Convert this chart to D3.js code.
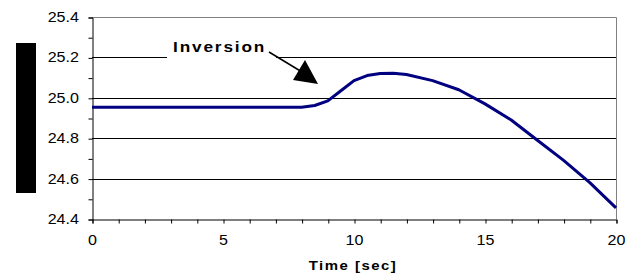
<!DOCTYPE html>
<html>
<head>
<meta charset="utf-8">
<title>Inversion</title>
<style>
    body { margin: 0; background: white; }
    text { font-family: "Liberation Sans", Arial, sans-serif; }
</style>
</head>
<body>
<div id="chart"></div>
<script src="https://cdn.jsdelivr.net/npm/d3@7/dist/d3.min.js"></script>
<script>
    // time in seconds and the measured value
    let times  = [0, 1, 2, 3, 4, 5, 6, 7, 8, 8.5, 9, 9.5, 10, 10.5, 11, 11.5, 12, 13, 14, 15, 16, 17, 18, 19, 20]
    let values = [24.953, 24.953, 24.953, 24.953, 24.953, 24.953, 24.953, 24.953, 24.953, 24.962, 24.985, 25.035, 25.085, 25.11, 25.12, 25.122, 25.115, 25.085, 25.04, 24.97, 24.89, 24.79, 24.69, 24.58, 24.455]
    let xTicks = [0, 5, 10, 15, 20]
    let yTicks = [24.4, 24.6, 24.8, 25.0, 25.2, 25.4]
    let gridValues = [24.6, 24.8, 25.0, 25.2]

    let width = 632, height = 280
    let plotLeft = 92, plotRight = 616, plotTop = 17, plotBottom = 219
    let stretch = 1.15   // the picture's text is a little wide

    let svg = d3.select("#chart").append("svg")
        .attr("width", width)
        .attr("height", height)

    let x = d3.scaleLinear().domain([0, 20]).range([plotLeft, plotRight])
    let y = d3.scaleLinear().domain([24.4, 25.4]).range([plotBottom, plotTop])

    function wideText(px, py, size) {
        return svg.append("text")
            .attr("transform", "translate(" + px + "," + py + ") scale(" + stretch + ",1)")
            .attr("font-size", size)
    }

    // grid lines
    svg.selectAll(".grid")
        .data(gridValues)
        .enter()
        .append("line")
        .attr("x1", plotLeft)
        .attr("x2", plotRight)
        .attr("y1", d => Math.round(y(d)) + 0.5)
        .attr("y2", d => Math.round(y(d)) + 0.5)
        .attr("stroke", "black")
        .attr("stroke-width", 1)

    // top and right border
    svg.append("path")
        .attr("d", "M" + plotLeft + "," + (plotTop + 0.5) + "H" + (plotRight + 0.5) + "V" + plotBottom)
        .attr("fill", "none")
        .attr("stroke", "#808080")
        .attr("stroke-width", 1)

    // y axis
    let yAxis = svg.append("g")
        .attr("transform", "translate(" + (plotLeft + 0.5) + ",0.5)")
        .call(d3.axisLeft(y).tickValues(d3.range(24.4, 25.45, 0.1)).tickSize(4).tickFormat(""))
    yAxis.select(".domain").attr("stroke", "black")
    yAxis.selectAll("line").attr("stroke", "black")

    yTicks.forEach(function(d){
        wideText(plotLeft - 13, y(d) + 5, 14)
            .attr("text-anchor", "end")
            .text(d.toFixed(1))
    })

    // x axis
    let xAxis = svg.append("g")
        .attr("transform", "translate(0.5," + (plotBottom + 0.5) + ")")
        .call(d3.axisBottom(x).tickValues(d3.range(0, 21, 1)).tickSize(4).tickFormat(""))
    xAxis.select(".domain").attr("stroke", "black")
    xAxis.selectAll("line").attr("stroke", "black")

    xTicks.forEach(function(d){
        wideText(x(d) + 0.5, plotBottom + 26, 14)
            .attr("text-anchor", "middle")
            .text(d)
    })

    wideText(353, 270, 13)
        .attr("text-anchor", "middle")
        .attr("font-weight", "bold")
        .attr("letter-spacing", 1.3)
        .text("Time [sec]")

    // hidden y label block
    svg.append("rect")
        .attr("x", 16)
        .attr("y", 43)
        .attr("width", 20)
        .attr("height", 150)
        .attr("fill", "black")

    // the curve
    let line = d3.line()
        .x((d, i) => x(times[i]))
        .y(d => y(d))
    svg.append("path")
        .attr("d", line(values))
        .attr("fill", "none")
        .attr("stroke", "#000080")
        .attr("stroke-width", 3)
        .attr("stroke-linejoin", "round")

    // annotation
    svg.append("rect")
        .attr("x", 167)
        .attr("y", 34)
        .attr("width", 109)
        .attr("height", 26)
        .attr("fill", "white")
    wideText(173, 52, 15)
        .attr("font-weight", "bold")
        .attr("letter-spacing", 1.6)
        .text("Inversion")

    svg.append("line")
        .attr("x1", 269).attr("y1", 52)
        .attr("x2", 302).attr("y2", 72)
        .attr("stroke", "black")
        .attr("stroke-width", 1.5)
    svg.append("path")
        .attr("d", "M293,80 L305,60 L318,84 Z")
        .attr("fill", "black")
</script>
</body>
</html>
